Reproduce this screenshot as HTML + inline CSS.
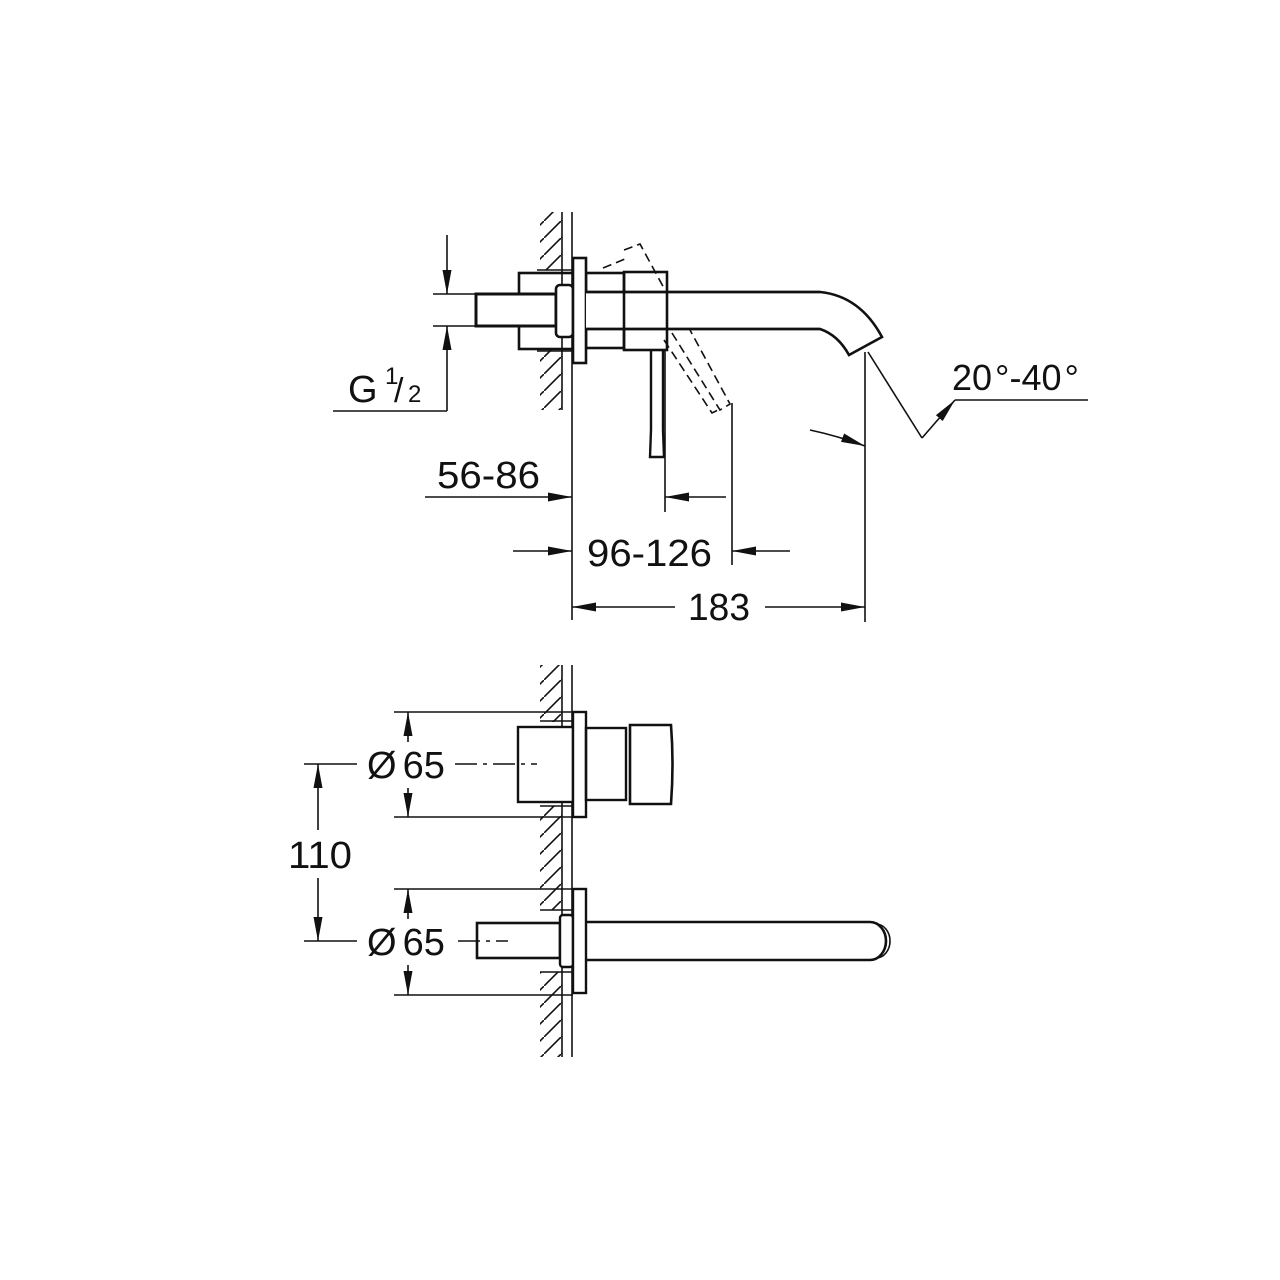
<!DOCTYPE html>
<html><head><meta charset="utf-8"><style>
html,body{margin:0;padding:0;background:#fff}
svg{display:block}
text{font-family:"Liberation Sans",Arial,sans-serif;fill:#111}
</style></head><body>
<svg width="1280" height="1280" viewBox="0 0 1280 1280" xmlns="http://www.w3.org/2000/svg">
<defs>
<pattern id="h" patternUnits="userSpaceOnUse" width="17" height="17">
<line x1="0" y1="17" x2="17" y2="0" stroke="#111" stroke-width="1.6"/>
</pattern>
<marker id="a" viewBox="0 0 24 9" refX="24" refY="4.5" markerWidth="24" markerHeight="9" markerUnits="userSpaceOnUse" orient="auto">
<path d="M0,0 L24,4.5 L0,9 Z" fill="#111"/>
</marker>
</defs>
<g stroke="#111" fill="none" stroke-width="2">
<rect x="540" y="212" width="22" height="198" fill="url(#h)" stroke="none"/>
<rect x="540" y="270" width="33" height="80" fill="#fff" stroke="none"/>
<line x1="562" y1="212" x2="562" y2="410" stroke-width="1.6"/>
<line x1="572" y1="212" x2="572" y2="620" stroke-width="1.6"/>
<line x1="537" y1="270" x2="573" y2="270" stroke-width="1.6"/>
<line x1="537" y1="351" x2="573" y2="351" stroke-width="1.6"/>
<rect x="519" y="273" width="54" height="76" stroke-width="2.6"/>
<rect x="586" y="273" width="38" height="75" stroke-width="2.6"/>
<rect x="476" y="294" width="80" height="32" fill="#fff" stroke-width="3"/>
<rect x="556" y="285" width="17" height="52" rx="4" fill="#fff" stroke-width="2.6"/>
<rect x="573" y="258" width="13" height="105" fill="#fff" stroke-width="2.6"/>
<path d="M586,292 L820,292 Q860,296 882,337 L849,355 Q838,335 820,329 L586,329" fill="#fff" stroke-width="2.6"/>
<rect x="624" y="272" width="43" height="78" fill="none" stroke-width="2.6"/>
<line x1="586" y1="292" x2="820" y2="292" stroke-width="2.6"/>
<line x1="586" y1="329" x2="820" y2="329" stroke-width="2.6"/>
<path d="M651,350 L651,430 L650,457 L664,457 L663,430 L663,350" stroke-width="2.4"/>
<g stroke-dasharray="9,5" stroke-width="1.6">
<path d="M603,268 L625,259"/>
<path d="M624,250 L640,244 L665,290"/>
<path d="M672,333 L720,410 L730,404 L690,330"/>
<path d="M664,340 L712,413 L720,409"/>
</g>
<line x1="665" y1="350" x2="665" y2="512" stroke-width="1.6"/>
<line x1="732" y1="403" x2="732" y2="565" stroke-width="1.6"/>
<line x1="865" y1="352" x2="865" y2="622" stroke-width="1.6"/>
<line x1="868" y1="352" x2="922" y2="438" stroke-width="1.6"/>
<line x1="922" y1="438" x2="955" y2="400" stroke-width="1.6" marker-end="url(#a)"/>
<line x1="955" y1="400" x2="1088" y2="400" stroke-width="1.6"/>
<path d="M810,430 Q838,436 865,446" stroke-width="1.6" marker-end="url(#a)"/>
<line x1="433" y1="294" x2="476" y2="294" stroke-width="1.6"/>
<line x1="433" y1="326" x2="476" y2="326" stroke-width="1.6"/>
<line x1="447" y1="235" x2="447" y2="294" stroke-width="1.6" marker-end="url(#a)"/>
<line x1="447" y1="411" x2="447" y2="326" stroke-width="1.6" marker-end="url(#a)"/>
<line x1="333" y1="411" x2="447" y2="411" stroke-width="1.6"/>
<line x1="425" y1="497" x2="572" y2="497" stroke-width="1.6" marker-end="url(#a)"/>
<line x1="726" y1="497" x2="665" y2="497" stroke-width="1.6" marker-end="url(#a)"/>
<line x1="513" y1="551" x2="572" y2="551" stroke-width="1.6" marker-end="url(#a)"/>
<line x1="790" y1="551" x2="732" y2="551" stroke-width="1.6" marker-end="url(#a)"/>
<line x1="675" y1="607" x2="572" y2="607" stroke-width="1.6" marker-end="url(#a)"/>
<line x1="765" y1="607" x2="865" y2="607" stroke-width="1.6" marker-end="url(#a)"/>

<rect x="540" y="665" width="22" height="392" fill="url(#h)" stroke="none"/>
<rect x="540" y="722" width="33" height="84" fill="#fff" stroke="none"/>
<rect x="540" y="910" width="33" height="62" fill="#fff" stroke="none"/>
<line x1="562" y1="665" x2="562" y2="1057" stroke-width="1.6"/>
<line x1="572" y1="665" x2="572" y2="1057" stroke-width="1.6"/>
<line x1="540" y1="721" x2="573" y2="721" stroke-width="1.6"/>
<line x1="540" y1="806" x2="573" y2="806" stroke-width="1.6"/>
<line x1="540" y1="910" x2="573" y2="910" stroke-width="1.6"/>
<line x1="540" y1="972" x2="573" y2="972" stroke-width="1.6"/>
<rect x="518" y="727" width="55" height="75" fill="#fff" stroke-width="2.4"/>
<rect x="573" y="712" width="13" height="105" fill="#fff" stroke-width="2.4"/>
<rect x="586" y="728" width="40" height="72" stroke-width="2.4"/>
<path d="M630,725 L671,725 Q674,764 671,804 L630,804 Z" stroke-width="2.6"/>
<line x1="455" y1="764" x2="537" y2="764" stroke-width="1.6" stroke-dasharray="22,6,4,6"/>
<rect x="477" y="923" width="83" height="35" fill="#fff" stroke-width="2.6"/>
<rect x="560" y="915" width="13" height="52" rx="3" fill="#fff" stroke-width="2.4"/>
<rect x="573" y="889" width="13" height="104" fill="#fff" stroke-width="2.4"/>
<path d="M586,922 L870,922 A16,19 0 0 1 870,960 L586,960" stroke-width="2.6"/>
<path d="M876,924 A14,17 0 0 1 876,958" stroke-width="1.6"/>
<line x1="458" y1="941" x2="508" y2="941" stroke-width="1.6" stroke-dasharray="22,6,4,6"/>
<line x1="394" y1="712" x2="573" y2="712" stroke-width="1.6"/>
<line x1="394" y1="817" x2="573" y2="817" stroke-width="1.6"/>
<line x1="408" y1="742" x2="408" y2="712" stroke-width="1.6" marker-end="url(#a)"/>
<line x1="408" y1="788" x2="408" y2="817" stroke-width="1.6" marker-end="url(#a)"/>
<line x1="394" y1="889" x2="573" y2="889" stroke-width="1.6"/>
<line x1="394" y1="995" x2="573" y2="995" stroke-width="1.6"/>
<line x1="408" y1="919" x2="408" y2="889" stroke-width="1.6" marker-end="url(#a)"/>
<line x1="408" y1="965" x2="408" y2="995" stroke-width="1.6" marker-end="url(#a)"/>
<line x1="304" y1="764" x2="357" y2="764" stroke-width="1.6"/>
<line x1="304" y1="941" x2="357" y2="941" stroke-width="1.6"/>
<line x1="318" y1="830" x2="318" y2="764" stroke-width="1.6" marker-end="url(#a)"/>
<line x1="318" y1="878" x2="318" y2="941" stroke-width="1.6" marker-end="url(#a)"/>
</g>
<g font-size="38">
<text x="348" y="402">G</text>
<text x="385" y="384" font-size="24">1</text>
<text x="394" y="402" font-size="34">/</text>
<text x="408" y="402" font-size="24">2</text>
<text x="952" y="390" font-size="36">20<tspan dx="3">°</tspan>-40<tspan dx="3">°</tspan></text>
<text x="437" y="488" textLength="103" lengthAdjust="spacingAndGlyphs">56-86</text>
<text x="587" y="566" textLength="125" lengthAdjust="spacingAndGlyphs">96-126</text>
<text x="688" y="620" textLength="62" lengthAdjust="spacingAndGlyphs">183</text>
<text x="367" y="778">Ø<tspan dx="6">65</tspan></text>
<text x="367" y="955">Ø<tspan dx="6">65</tspan></text>
<text x="288" y="868" textLength="64" lengthAdjust="spacingAndGlyphs">110</text>
</g>
</svg>
</body></html>
